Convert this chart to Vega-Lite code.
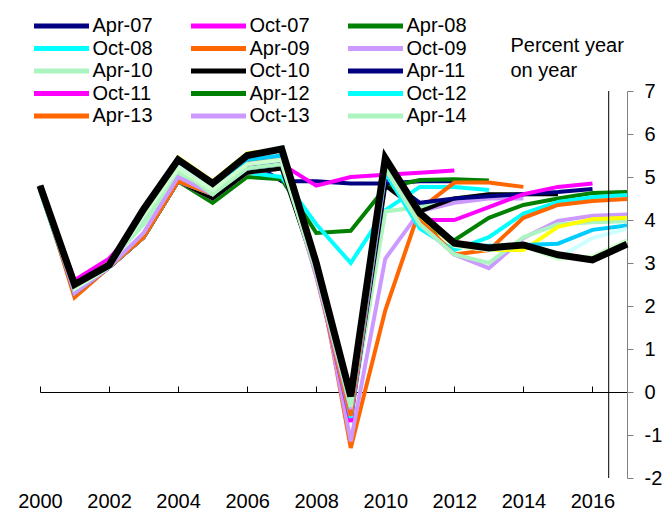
{
  "$schema": "https://vega.github.io/schema/vega-lite/v6.json",
  "width": 587,
  "height": 387,
  "autosize": {"type": "none"},
  "padding": {"left": 40, "top": 91, "right": 38, "bottom": 33},
  "config": {
    "font": "Liberation Sans",
    "view": {"stroke": null},
    "axis": {"grid": false, "labelFont": "Liberation Sans", "titleFont": "Liberation Sans", "labelColor": "#000000", "titleColor": "#000000"},
    "legend": {"labelFont": "Liberation Sans"}
  },
  "datasets": {
    "vintages": [
      {"vintage":"Apr-07","year":2000,"value":4.7},{"vintage":"Apr-07","year":2001,"value":2.5},{"vintage":"Apr-07","year":2002,"value":3.0},{"vintage":"Apr-07","year":2003,"value":4.0},{"vintage":"Apr-07","year":2004,"value":5.3},{"vintage":"Apr-07","year":2005,"value":4.9},{"vintage":"Apr-07","year":2006,"value":5.4},{"vintage":"Apr-07","year":2007,"value":4.9},{"vintage":"Apr-07","year":2008,"value":4.9},{"vintage":"Apr-07","year":2009,"value":4.85},{"vintage":"Apr-07","year":2010,"value":4.85},{"vintage":"Apr-07","year":2011,"value":4.9},{"vintage":"Apr-07","year":2012,"value":4.9},
      {"vintage":"Oct-07","year":2000,"value":4.8},{"vintage":"Oct-07","year":2001,"value":2.6},{"vintage":"Oct-07","year":2002,"value":3.1},{"vintage":"Oct-07","year":2003,"value":4.0},{"vintage":"Oct-07","year":2004,"value":5.3},{"vintage":"Oct-07","year":2005,"value":4.8},{"vintage":"Oct-07","year":2006,"value":5.4},{"vintage":"Oct-07","year":2007,"value":5.3},{"vintage":"Oct-07","year":2008,"value":4.8},{"vintage":"Oct-07","year":2009,"value":5.0},{"vintage":"Oct-07","year":2010,"value":5.05},{"vintage":"Oct-07","year":2011,"value":5.1},{"vintage":"Oct-07","year":2012,"value":5.15},
      {"vintage":"Apr-08","year":2000,"value":4.7},{"vintage":"Apr-08","year":2001,"value":2.3},{"vintage":"Apr-08","year":2002,"value":2.9},{"vintage":"Apr-08","year":2003,"value":3.6},{"vintage":"Apr-08","year":2004,"value":4.9},{"vintage":"Apr-08","year":2005,"value":4.4},{"vintage":"Apr-08","year":2006,"value":5.0},{"vintage":"Apr-08","year":2007,"value":4.95},{"vintage":"Apr-08","year":2008,"value":3.7},{"vintage":"Apr-08","year":2009,"value":3.75},{"vintage":"Apr-08","year":2010,"value":4.75},{"vintage":"Apr-08","year":2011,"value":4.93},{"vintage":"Apr-08","year":2012,"value":4.95},{"vintage":"Apr-08","year":2013,"value":4.92},
      {"vintage":"Oct-08","year":2000,"value":4.7},{"vintage":"Oct-08","year":2001,"value":2.3},{"vintage":"Oct-08","year":2002,"value":2.9},{"vintage":"Oct-08","year":2003,"value":3.6},{"vintage":"Oct-08","year":2004,"value":4.9},{"vintage":"Oct-08","year":2005,"value":4.5},{"vintage":"Oct-08","year":2006,"value":5.1},{"vintage":"Oct-08","year":2007,"value":5.0},{"vintage":"Oct-08","year":2008,"value":3.9},{"vintage":"Oct-08","year":2009,"value":3.0},{"vintage":"Oct-08","year":2010,"value":4.23},{"vintage":"Oct-08","year":2011,"value":4.77},{"vintage":"Oct-08","year":2012,"value":4.77},{"vintage":"Oct-08","year":2013,"value":4.7},
      {"vintage":"Apr-09","year":2000,"value":4.8},{"vintage":"Apr-09","year":2001,"value":2.2},{"vintage":"Apr-09","year":2002,"value":2.9},{"vintage":"Apr-09","year":2003,"value":3.6},{"vintage":"Apr-09","year":2004,"value":4.9},{"vintage":"Apr-09","year":2005,"value":4.5},{"vintage":"Apr-09","year":2006,"value":5.1},{"vintage":"Apr-09","year":2007,"value":5.2},{"vintage":"Apr-09","year":2008,"value":3.1},{"vintage":"Apr-09","year":2009,"value":-1.3},{"vintage":"Apr-09","year":2010,"value":1.9},{"vintage":"Apr-09","year":2011,"value":4.25},{"vintage":"Apr-09","year":2012,"value":4.87},{"vintage":"Apr-09","year":2013,"value":4.87},{"vintage":"Apr-09","year":2014,"value":4.77},
      {"vintage":"Oct-09","year":2000,"value":4.8},{"vintage":"Oct-09","year":2001,"value":2.3},{"vintage":"Oct-09","year":2002,"value":2.9},{"vintage":"Oct-09","year":2003,"value":3.6},{"vintage":"Oct-09","year":2004,"value":4.9},{"vintage":"Oct-09","year":2005,"value":4.5},{"vintage":"Oct-09","year":2006,"value":5.1},{"vintage":"Oct-09","year":2007,"value":5.2},{"vintage":"Oct-09","year":2008,"value":3.0},{"vintage":"Oct-09","year":2009,"value":-1.15},{"vintage":"Oct-09","year":2010,"value":3.1},{"vintage":"Oct-09","year":2011,"value":4.2},{"vintage":"Oct-09","year":2012,"value":4.4},{"vintage":"Oct-09","year":2013,"value":4.5},{"vintage":"Oct-09","year":2014,"value":4.5},
      {"vintage":"Apr-10","year":2000,"value":4.8},{"vintage":"Apr-10","year":2001,"value":2.3},{"vintage":"Apr-10","year":2002,"value":3.0},{"vintage":"Apr-10","year":2003,"value":3.9},{"vintage":"Apr-10","year":2004,"value":5.1},{"vintage":"Apr-10","year":2005,"value":4.6},{"vintage":"Apr-10","year":2006,"value":5.2},{"vintage":"Apr-10","year":2007,"value":5.2},{"vintage":"Apr-10","year":2008,"value":2.8},{"vintage":"Apr-10","year":2009,"value":-0.6},{"vintage":"Apr-10","year":2010,"value":4.2},{"vintage":"Apr-10","year":2011,"value":4.3},{"vintage":"Apr-10","year":2012,"value":4.5},{"vintage":"Apr-10","year":2013,"value":4.6},{"vintage":"Apr-10","year":2014,"value":4.6},{"vintage":"Apr-10","year":2015,"value":4.6},
      {"vintage":"Oct-10","year":2000,"value":4.8},{"vintage":"Oct-10","year":2001,"value":2.3},{"vintage":"Oct-10","year":2002,"value":2.9},{"vintage":"Oct-10","year":2003,"value":3.6},{"vintage":"Oct-10","year":2004,"value":4.9},{"vintage":"Oct-10","year":2005,"value":4.5},{"vintage":"Oct-10","year":2006,"value":5.1},{"vintage":"Oct-10","year":2007,"value":5.2},{"vintage":"Oct-10","year":2008,"value":2.8},{"vintage":"Oct-10","year":2009,"value":-0.6},{"vintage":"Oct-10","year":2010,"value":4.8},{"vintage":"Oct-10","year":2011,"value":4.2},{"vintage":"Oct-10","year":2012,"value":4.5},{"vintage":"Oct-10","year":2013,"value":4.6},{"vintage":"Oct-10","year":2014,"value":4.6},{"vintage":"Oct-10","year":2015,"value":4.6},
      {"vintage":"Apr-11","year":2000,"value":4.8},{"vintage":"Apr-11","year":2001,"value":2.3},{"vintage":"Apr-11","year":2002,"value":2.9},{"vintage":"Apr-11","year":2003,"value":3.6},{"vintage":"Apr-11","year":2004,"value":4.9},{"vintage":"Apr-11","year":2005,"value":4.6},{"vintage":"Apr-11","year":2006,"value":5.2},{"vintage":"Apr-11","year":2007,"value":5.3},{"vintage":"Apr-11","year":2008,"value":2.9},{"vintage":"Apr-11","year":2009,"value":-0.5},{"vintage":"Apr-11","year":2010,"value":5.0},{"vintage":"Apr-11","year":2011,"value":4.4},{"vintage":"Apr-11","year":2012,"value":4.5},{"vintage":"Apr-11","year":2013,"value":4.55},{"vintage":"Apr-11","year":2014,"value":4.6},{"vintage":"Apr-11","year":2015,"value":4.65},{"vintage":"Apr-11","year":2016,"value":4.72},
      {"vintage":"Oct-11","year":2000,"value":4.8},{"vintage":"Oct-11","year":2001,"value":2.3},{"vintage":"Oct-11","year":2002,"value":2.9},{"vintage":"Oct-11","year":2003,"value":3.6},{"vintage":"Oct-11","year":2004,"value":4.9},{"vintage":"Oct-11","year":2005,"value":4.6},{"vintage":"Oct-11","year":2006,"value":5.3},{"vintage":"Oct-11","year":2007,"value":5.4},{"vintage":"Oct-11","year":2008,"value":2.8},{"vintage":"Oct-11","year":2009,"value":-0.7},{"vintage":"Oct-11","year":2010,"value":5.1},{"vintage":"Oct-11","year":2011,"value":4.0},{"vintage":"Oct-11","year":2012,"value":4.0},{"vintage":"Oct-11","year":2013,"value":4.3},{"vintage":"Oct-11","year":2014,"value":4.6},{"vintage":"Oct-11","year":2015,"value":4.77},{"vintage":"Oct-11","year":2016,"value":4.85},
      {"vintage":"Apr-12","year":2000,"value":4.8},{"vintage":"Apr-12","year":2001,"value":2.3},{"vintage":"Apr-12","year":2002,"value":2.9},{"vintage":"Apr-12","year":2003,"value":3.6},{"vintage":"Apr-12","year":2004,"value":4.9},{"vintage":"Apr-12","year":2005,"value":4.6},{"vintage":"Apr-12","year":2006,"value":5.3},{"vintage":"Apr-12","year":2007,"value":5.4},{"vintage":"Apr-12","year":2008,"value":2.8},{"vintage":"Apr-12","year":2009,"value":-0.6},{"vintage":"Apr-12","year":2010,"value":5.3},{"vintage":"Apr-12","year":2011,"value":3.9},{"vintage":"Apr-12","year":2012,"value":3.53},{"vintage":"Apr-12","year":2013,"value":4.05},{"vintage":"Apr-12","year":2014,"value":4.35},{"vintage":"Apr-12","year":2015,"value":4.5},{"vintage":"Apr-12","year":2016,"value":4.63},{"vintage":"Apr-12","year":2017,"value":4.65},
      {"vintage":"Oct-12","year":2000,"value":4.8},{"vintage":"Oct-12","year":2001,"value":2.3},{"vintage":"Oct-12","year":2002,"value":2.9},{"vintage":"Oct-12","year":2003,"value":3.6},{"vintage":"Oct-12","year":2004,"value":4.9},{"vintage":"Oct-12","year":2005,"value":4.6},{"vintage":"Oct-12","year":2006,"value":5.3},{"vintage":"Oct-12","year":2007,"value":5.4},{"vintage":"Oct-12","year":2008,"value":2.8},{"vintage":"Oct-12","year":2009,"value":-0.6},{"vintage":"Oct-12","year":2010,"value":5.1},{"vintage":"Oct-12","year":2011,"value":3.8},{"vintage":"Oct-12","year":2012,"value":3.3},{"vintage":"Oct-12","year":2013,"value":3.6},{"vintage":"Oct-12","year":2014,"value":4.15},{"vintage":"Oct-12","year":2015,"value":4.42},{"vintage":"Oct-12","year":2016,"value":4.53},{"vintage":"Oct-12","year":2017,"value":4.58},
      {"vintage":"Apr-13","year":2000,"value":4.8},{"vintage":"Apr-13","year":2001,"value":2.3},{"vintage":"Apr-13","year":2002,"value":2.9},{"vintage":"Apr-13","year":2003,"value":3.6},{"vintage":"Apr-13","year":2004,"value":4.9},{"vintage":"Apr-13","year":2005,"value":4.6},{"vintage":"Apr-13","year":2006,"value":5.35},{"vintage":"Apr-13","year":2007,"value":5.45},{"vintage":"Apr-13","year":2008,"value":2.7},{"vintage":"Apr-13","year":2009,"value":-0.55},{"vintage":"Apr-13","year":2010,"value":5.2},{"vintage":"Apr-13","year":2011,"value":4.0},{"vintage":"Apr-13","year":2012,"value":3.2},{"vintage":"Apr-13","year":2013,"value":3.3},{"vintage":"Apr-13","year":2014,"value":4.05},{"vintage":"Apr-13","year":2015,"value":4.35},{"vintage":"Apr-13","year":2016,"value":4.44},{"vintage":"Apr-13","year":2017,"value":4.49},
      {"vintage":"Oct-13","year":2000,"value":4.8},{"vintage":"Oct-13","year":2001,"value":2.3},{"vintage":"Oct-13","year":2002,"value":2.9},{"vintage":"Oct-13","year":2003,"value":3.7},{"vintage":"Oct-13","year":2004,"value":5.0},{"vintage":"Oct-13","year":2005,"value":4.6},{"vintage":"Oct-13","year":2006,"value":5.3},{"vintage":"Oct-13","year":2007,"value":5.4},{"vintage":"Oct-13","year":2008,"value":2.7},{"vintage":"Oct-13","year":2009,"value":-0.4},{"vintage":"Oct-13","year":2010,"value":5.2},{"vintage":"Oct-13","year":2011,"value":3.9},{"vintage":"Oct-13","year":2012,"value":3.2},{"vintage":"Oct-13","year":2013,"value":2.88},{"vintage":"Oct-13","year":2014,"value":3.58},{"vintage":"Oct-13","year":2015,"value":3.98},{"vintage":"Oct-13","year":2016,"value":4.1},{"vintage":"Oct-13","year":2017,"value":4.13},
      {"vintage":"Apr-14","year":2000,"value":4.7},{"vintage":"Apr-14","year":2001,"value":2.4},{"vintage":"Apr-14","year":2002,"value":3.0},{"vintage":"Apr-14","year":2003,"value":4.0},{"vintage":"Apr-14","year":2004,"value":5.2},{"vintage":"Apr-14","year":2005,"value":4.6},{"vintage":"Apr-14","year":2006,"value":5.2},{"vintage":"Apr-14","year":2007,"value":5.3},{"vintage":"Apr-14","year":2008,"value":2.8},{"vintage":"Apr-14","year":2009,"value":-0.35},{"vintage":"Apr-14","year":2010,"value":5.2},{"vintage":"Apr-14","year":2011,"value":3.9},{"vintage":"Apr-14","year":2012,"value":3.2},{"vintage":"Apr-14","year":2013,"value":3.0},{"vintage":"Apr-14","year":2014,"value":3.6},{"vintage":"Apr-14","year":2015,"value":3.9},{"vintage":"Apr-14","year":2016,"value":3.95},{"vintage":"Apr-14","year":2017,"value":3.97},
      {"vintage":"Oct-14","year":2000,"value":4.8},{"vintage":"Oct-14","year":2001,"value":2.5},{"vintage":"Oct-14","year":2002,"value":3.0},{"vintage":"Oct-14","year":2003,"value":4.2},{"vintage":"Oct-14","year":2004,"value":5.45},{"vintage":"Oct-14","year":2005,"value":4.9},{"vintage":"Oct-14","year":2006,"value":5.55},{"vintage":"Oct-14","year":2007,"value":5.65},{"vintage":"Oct-14","year":2008,"value":3.0},{"vintage":"Oct-14","year":2009,"value":-0.05},{"vintage":"Oct-14","year":2010,"value":5.4},{"vintage":"Oct-14","year":2011,"value":4.1},{"vintage":"Oct-14","year":2012,"value":3.4},{"vintage":"Oct-14","year":2013,"value":3.3},{"vintage":"Oct-14","year":2014,"value":3.3},{"vintage":"Oct-14","year":2015,"value":3.84},{"vintage":"Oct-14","year":2016,"value":4.02},{"vintage":"Oct-14","year":2017,"value":4.05},
      {"vintage":"Apr-15","year":2000,"value":4.8},{"vintage":"Apr-15","year":2001,"value":2.4},{"vintage":"Apr-15","year":2002,"value":2.9},{"vintage":"Apr-15","year":2003,"value":4.1},{"vintage":"Apr-15","year":2004,"value":5.3},{"vintage":"Apr-15","year":2005,"value":4.8},{"vintage":"Apr-15","year":2006,"value":5.4},{"vintage":"Apr-15","year":2007,"value":5.5},{"vintage":"Apr-15","year":2008,"value":3.0},{"vintage":"Apr-15","year":2009,"value":-0.05},{"vintage":"Apr-15","year":2010,"value":5.4},{"vintage":"Apr-15","year":2011,"value":4.2},{"vintage":"Apr-15","year":2012,"value":3.4},{"vintage":"Apr-15","year":2013,"value":3.4},{"vintage":"Apr-15","year":2014,"value":3.42},{"vintage":"Apr-15","year":2015,"value":3.45},{"vintage":"Apr-15","year":2016,"value":3.77},{"vintage":"Apr-15","year":2017,"value":3.87},
      {"vintage":"Oct-15","year":2000,"value":4.8},{"vintage":"Oct-15","year":2001,"value":2.4},{"vintage":"Oct-15","year":2002,"value":2.9},{"vintage":"Oct-15","year":2003,"value":4.1},{"vintage":"Oct-15","year":2004,"value":5.3},{"vintage":"Oct-15","year":2005,"value":4.8},{"vintage":"Oct-15","year":2006,"value":5.5},{"vintage":"Oct-15","year":2007,"value":5.7},{"vintage":"Oct-15","year":2008,"value":3.0},{"vintage":"Oct-15","year":2009,"value":0.0},{"vintage":"Oct-15","year":2010,"value":5.4},{"vintage":"Oct-15","year":2011,"value":4.2},{"vintage":"Oct-15","year":2012,"value":3.4},{"vintage":"Oct-15","year":2013,"value":3.3},{"vintage":"Oct-15","year":2014,"value":3.4},{"vintage":"Oct-15","year":2015,"value":3.12},{"vintage":"Oct-15","year":2016,"value":3.58},{"vintage":"Oct-15","year":2017,"value":3.8},
      {"vintage":"Apr-16","year":2000,"value":4.7},{"vintage":"Apr-16","year":2001,"value":2.4},{"vintage":"Apr-16","year":2002,"value":2.9},{"vintage":"Apr-16","year":2003,"value":4.1},{"vintage":"Apr-16","year":2004,"value":5.2},{"vintage":"Apr-16","year":2005,"value":4.7},{"vintage":"Apr-16","year":2006,"value":5.3},{"vintage":"Apr-16","year":2007,"value":5.4},{"vintage":"Apr-16","year":2008,"value":2.9},{"vintage":"Apr-16","year":2009,"value":-0.1},{"vintage":"Apr-16","year":2010,"value":5.4},{"vintage":"Apr-16","year":2011,"value":4.2},{"vintage":"Apr-16","year":2012,"value":3.4},{"vintage":"Apr-16","year":2013,"value":3.3},{"vintage":"Apr-16","year":2014,"value":3.4},{"vintage":"Apr-16","year":2015,"value":3.1},{"vintage":"Apr-16","year":2016,"value":3.15},{"vintage":"Apr-16","year":2017,"value":3.53}
    ],
    "latest": [
      {"vintage":"Oct-16","year":2000,"value":4.8},{"vintage":"Oct-16","year":2001,"value":2.5},{"vintage":"Oct-16","year":2002,"value":2.95},{"vintage":"Oct-16","year":2003,"value":4.25},{"vintage":"Oct-16","year":2004,"value":5.4},{"vintage":"Oct-16","year":2005,"value":4.85},{"vintage":"Oct-16","year":2006,"value":5.5},{"vintage":"Oct-16","year":2007,"value":5.65},{"vintage":"Oct-16","year":2008,"value":3.0},{"vintage":"Oct-16","year":2009,"value":-0.1},{"vintage":"Oct-16","year":2010,"value":5.44},{"vintage":"Oct-16","year":2011,"value":4.16},{"vintage":"Oct-16","year":2012,"value":3.46},{"vintage":"Oct-16","year":2013,"value":3.35},{"vintage":"Oct-16","year":2014,"value":3.42},{"vintage":"Oct-16","year":2015,"value":3.19},{"vintage":"Oct-16","year":2016,"value":3.07},{"vintage":"Oct-16","year":2017,"value":3.44}
    ],
    "marker": [{"year": 2016.47, "top": 7, "bottom": -2}]
  },
  "layer": [
    {
      "data": {"name": "vintages"},
      "mark": {"type": "line", "strokeWidth": 4, "strokeCap": "butt", "strokeJoin": "miter"},
      "encoding": {
        "x": {
          "field": "year", "type": "quantitative",
          "scale": {"domain": [2000, 2017], "nice": false, "zero": false},
          "axis": {"orient": "bottom", "values": [2000, 2002, 2004, 2006, 2008, 2010, 2012, 2014, 2016], "format": "d", "domain": false, "ticks": false, "tickSize": 0, "labelPadding": 13, "labelFontSize": 20, "title": null, "labelFlush": false}
        },
        "y": {
          "field": "value", "type": "quantitative",
          "scale": {"domain": [-2, 7], "nice": false, "zero": false},
          "axis": {"orient": "right", "values": [-2, -1, 0, 1, 2, 3, 4, 5, 6, 7], "labelExpr": "'' + datum.value", "domainColor": "#808080", "tickColor": "#808080", "tickSize": 6, "labelPadding": 11, "labelFontSize": 20, "labelAlign": "left",
            "title": ["Percent year", "on year"], "titleAngle": 0, "titleAlign": "left", "titleBaseline": "alphabetic", "titleX": -117, "titleY": -40, "titleFontSize": 20, "titleFontWeight": "normal", "titleLineHeight": 25}
        },
        "color": {
          "field": "vintage", "type": "nominal", "sort": null,
          "scale": {
            "domain": ["Apr-07","Oct-07","Apr-08","Oct-08","Apr-09","Oct-09","Apr-10","Oct-10","Apr-11","Oct-11","Apr-12","Oct-12","Apr-13","Oct-13","Apr-14","Oct-14","Apr-15","Oct-15","Apr-16"],
            "range": ["#000080","#FF00FF","#008000","#00FFFF","#FF6600","#CC99FF","#ADF5C0","#000000","#000080","#FF00FF","#008000","#00FFFF","#FF6600","#CC99FF","#ADF5C0","#FFFF00","#00CCFF","#CCFFFF","#CCFFCC"]
          },
          "legend": {
            "values": ["Apr-07","Oct-07","Apr-08","Oct-08","Apr-09","Oct-09","Apr-10","Oct-10","Apr-11","Oct-11","Apr-12","Oct-12","Apr-13","Oct-13","Apr-14"],
            "orient": "none", "direction": "horizontal", "legendX": -8.5, "legendY": -76, "columns": 3, "title": null, "padding": 0,
            "symbolType": "stroke", "symbolSize": 3025, "symbolStrokeWidth": 5, "clipHeight": 22, "rowPadding": 0.5, "columnPadding": 35, "gridAlign": "all",
            "labelFontSize": 20, "labelOffset": 1, "labelColor": "#000000", "labelLimit": 200
          }
        }
      }
    },
    {
      "data": {"name": "latest"},
      "mark": {"type": "line", "strokeWidth": 7, "color": "#000000", "strokeJoin": "miter"},
      "encoding": {
        "x": {
          "field": "year", "type": "quantitative",
          "axis": {"orient": "top", "offset": -301, "values": [2000, 2002, 2004, 2006, 2008, 2010, 2012, 2014, 2016], "labels": false, "domain": true, "domainColor": "#000000", "domainWidth": 1, "ticks": true, "tickColor": "#000000", "tickSize": 6, "title": null}
        },
        "y": {"field": "value", "type": "quantitative"}
      }
    },
    {
      "data": {"name": "marker"},
      "mark": {"type": "rule", "color": "#000000", "strokeWidth": 1},
      "encoding": {
        "x": {"field": "year", "type": "quantitative", "axis": null},
        "y": {"field": "top", "type": "quantitative"},
        "y2": {"field": "bottom"}
      }
    }
  ],
  "resolve": {"axis": {"x": "independent"}}
}
